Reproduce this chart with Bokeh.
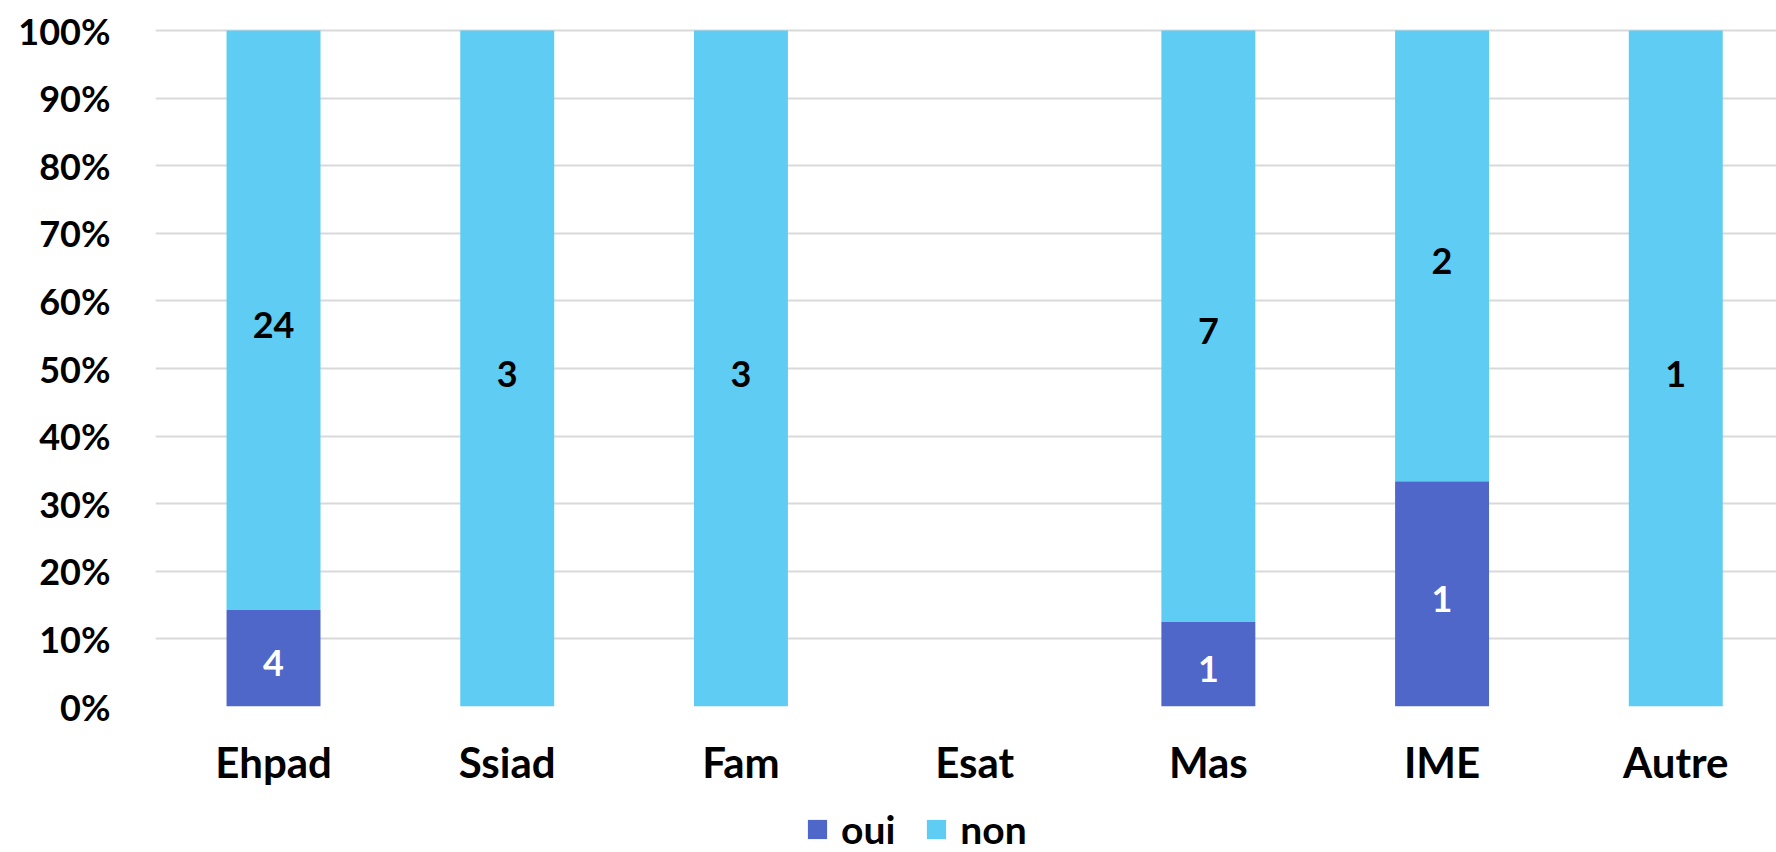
from bokeh.plotting import figure
from bokeh.layouts import column
from bokeh.models import (ColumnDataSource, LabelSet, Legend, LegendItem, FixedTicker,
                          Range1d, NumeralTickFormatter)
from bokeh.core.properties import value
from bokeh.embed import file_html
from bokeh.resources import INLINE

categories = ["Ehpad", "Ssiad", "Fam", "Esat", "Mas", "IME", "Autre"]
oui = [4, 0, 0, 0, 1, 1, 0]
non = [24, 3, 3, 0, 7, 2, 1]
y_ticks = [0, 0.1, 0.2, 0.3, 0.4, 0.5, 0.6, 0.7, 0.8, 0.9, 1.0]
series_names = ["oui", "non"]
colors = ["#4F67C8", "#5ECCF3"]

FONT = "Lato"

xs = list(range(len(categories)))
tot = [a + b for a, b in zip(oui, non)]
oui_f = [a / t if t else 0 for a, t in zip(oui, tot)]
non_f = [b / t if t else 0 for b, t in zip(non, tot)]

src = ColumnDataSource(dict(x=xs, oui=oui_f, non=non_f))

p = figure(width=1776, height=790, output_backend="svg", toolbar_location=None,
           x_range=Range1d(-0.505, 6.431), y_range=Range1d(0, 1.003),
           min_border_left=155, min_border_right=0, min_border_top=28,
           min_border_bottom=84)
p.outline_line_color = None

rs = p.vbar_stack(["oui", "non"], x="x", width=0.402, source=src,
                  color=colors, line_color=None)

# data labels
lx, ly, lt, lc = [], [], [], []
for i in range(len(categories)):
    if oui[i]:
        lx.append(xs[i]); ly.append(oui_f[i] / 2); lt.append(str(oui[i])); lc.append("white")
    if non[i]:
        lx.append(xs[i]); ly.append(oui_f[i] + non_f[i] / 2); lt.append(str(non[i])); lc.append("black")
lsrc = ColumnDataSource(dict(x=lx, y=ly, t=lt, c=lc))
p.add_layout(LabelSet(x="x", y="y", text="t", source=lsrc, text_color="c",
                      text_align="center", text_baseline="middle", y_offset=-5,
                      text_font=value(FONT), text_font_style="bold",
                      text_font_size="36px"))

# axes
p.xaxis.ticker = FixedTicker(ticks=xs)
p.xaxis.major_label_overrides = {i: c for i, c in enumerate(categories)}
p.xaxis.major_label_text_font = FONT
p.xaxis.major_label_text_font_style = "bold"
p.xaxis.major_label_text_font_size = "42px"
p.xaxis.major_label_text_line_height = 1.0
p.xaxis.major_label_text_color = "black"
p.xaxis.major_label_standoff = 24
p.xaxis.axis_line_color = None
p.xaxis.major_tick_line_color = None
p.xaxis.minor_tick_line_color = None

p.yaxis.ticker = FixedTicker(ticks=y_ticks)
p.yaxis.formatter = NumeralTickFormatter(format="0%")
p.yaxis.major_label_text_font = FONT
p.yaxis.major_label_text_font_style = "bold"
p.yaxis.major_label_text_font_size = "36px"
p.yaxis.major_label_text_color = "black"
p.yaxis.major_label_standoff = 39
p.yaxis.axis_line_color = None
p.yaxis.major_tick_line_color = None
p.yaxis.minor_tick_line_color = None

p.xgrid.grid_line_color = None
p.ygrid.ticker = FixedTicker(ticks=y_ticks)
p.ygrid.grid_line_color = "#D9D9D9"
p.ygrid.grid_line_width = 2

# legend strip below the chart (its own bars fall outside its visible range)
p2 = figure(width=1776, height=62, output_backend="svg", toolbar_location=None,
            x_range=Range1d(100, 1000), y_range=Range1d(10, 11),
            min_border=0, x_axis_location=None, y_axis_location=None)
p2.outline_line_color = None
p2.xgrid.grid_line_color = None
p2.ygrid.grid_line_color = None
lr = p2.vbar_stack(["oui", "non"], x="x", width=0.402, source=src,
                   color=colors, line_color=None)
legend = Legend(items=[LegendItem(label=n, renderers=[r]) for n, r in zip(series_names, lr)],
                orientation="horizontal", location=(650, 0),
                glyph_width=24, glyph_height=24, label_standoff=12, spacing=29,
                padding=0, margin=0, border_line_color=None, background_fill_alpha=0,
                label_text_font=FONT, label_text_font_style="bold",
                label_text_line_height=1.0,
                label_text_font_size="39px", label_text_color="black")
p2.add_layout(legend, "center")

layout = column(p, p2, spacing=0)
open("out.html", "w").write(file_html(layout, INLINE))
